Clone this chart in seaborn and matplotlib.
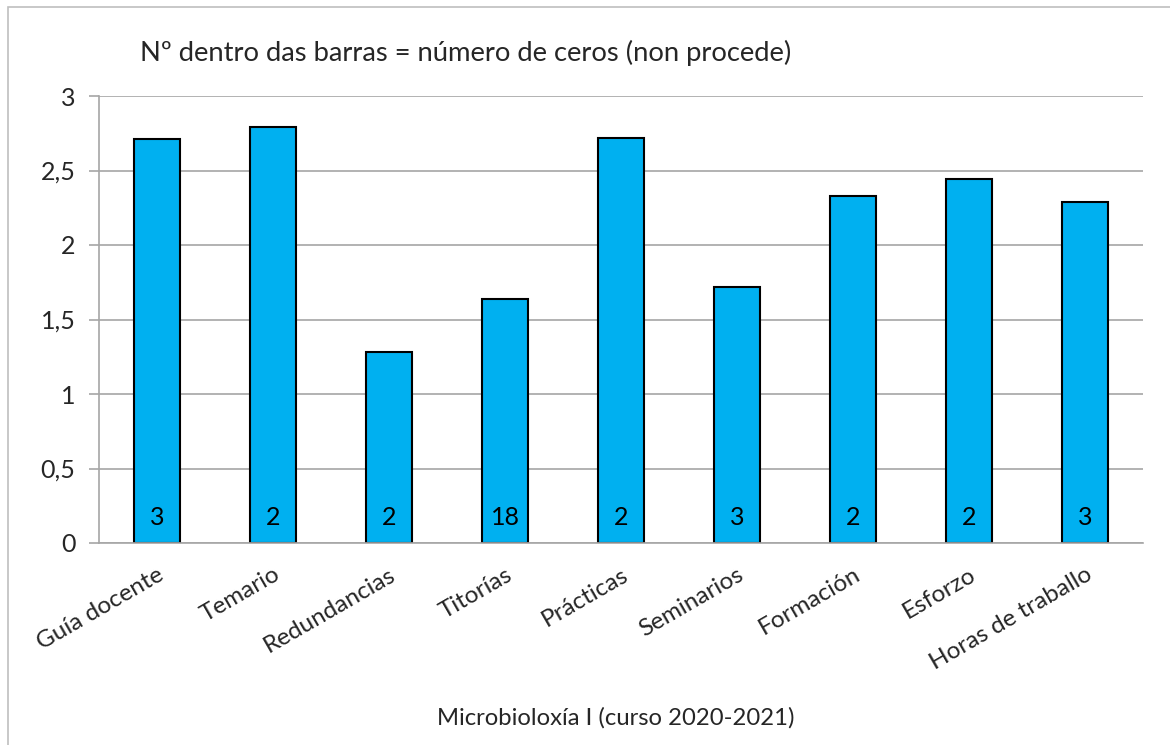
import matplotlib
matplotlib.use("Agg")
import matplotlib.pyplot as plt
import seaborn as sns
import pandas as pd
from matplotlib.patches import Rectangle

categorias = ["Guía docente", "Temario", "Redundancias", "Titorías", "Prácticas",
              "Seminarios", "Formación", "Esforzo", "Horas de traballo"]
medias = [2.71, 2.79, 1.28, 1.64, 2.72, 1.72, 2.33, 2.44, 2.29]
ceros = [3, 2, 2, 18, 2, 3, 2, 2, 3]
yticks = [0, 0.5, 1, 1.5, 2, 2.5, 3]
ytick_labels = ["0", "0,5", "1", "1,5", "2", "2,5", "3"]

df = pd.DataFrame({"cat": categorias, "media": medias})

sns.set_style("white")
plt.rcParams["font.family"] = ["Lato", "DejaVu Sans"]

fig = plt.figure(figsize=(11.7, 7.45), dpi=100)
ax = fig.add_axes([99 / 1170, 1 - 543 / 745, (1143 - 99) / 1170, (543 - 96) / 745])

sns.barplot(data=df, x="cat", y="media", ax=ax, color="#00B0F0", width=0.4,
            edgecolor="black", linewidth=1.5, saturation=1)

# número de ceros dentro de cada barra
for i, n in enumerate(ceros):
    ax.text(i, 0.17, str(n), ha="center", va="center", fontsize=18, color="black")

ax.set_ylim(0, 3)
ax.set_xlim(-0.5, len(categorias) - 0.5)
ax.set_yticks(yticks)
ax.set_yticklabels(ytick_labels, fontsize=18)
ax.yaxis.grid(True, color="#a6a6a6", linewidth=1.2)
ax.set_axisbelow(True)
ax.tick_params(axis="y", length=7, color="#a6a6a6", width=1.2, pad=10, left=True)
ax.tick_params(axis="x", length=0, pad=15)
for lab in ax.get_xticklabels():
    lab.set_rotation(30)
    lab.set_ha("right")
    lab.set_rotation_mode("anchor")
    lab.set_fontsize(17.5)
ax.set_xlabel("")
ax.set_ylabel("")
for s in ["top", "right"]:
    ax.spines[s].set_visible(False)
for s in ["left", "bottom"]:
    ax.spines[s].set_color("#a6a6a6")
    ax.spines[s].set_linewidth(1.2)

fig.text(140 / 1170, 1 - 53 / 745, "Nº dentro das barras = número de ceros (non procede)",
         ha="left", va="center", fontsize=19.7)
fig.text(616 / 1170, 1 - 718 / 745, "Microbioloxía I (curso 2020-2021)",
         ha="center", va="center", fontsize=17.2)

fig.patches.append(Rectangle((8 / 1170, -0.1), 1.2, 1 - 7 / 745 + 0.1, transform=fig.transFigure,
                             fill=False, edgecolor="#bfbfbf", linewidth=1.2))

fig.savefig("out.png", dpi=100)
